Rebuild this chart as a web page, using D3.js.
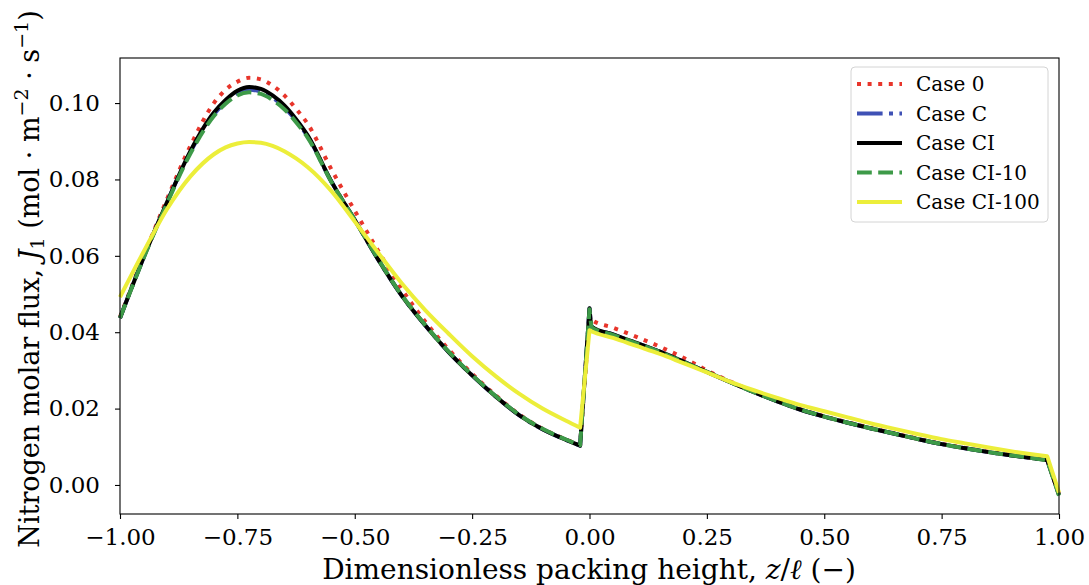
<!DOCTYPE html>
<html>
<head>
<meta charset="utf-8">
<script src="https://cdn.jsdelivr.net/npm/d3@7"></script>
<style>
  body { margin: 0; background: #fff; }
  text { font-family: "DejaVu Serif", serif; fill: #000; }
</style>
</head>
<body>
<svg id="chart" width="1089" height="585"></svg>
<script>
// dimensionless packing height z/l
const xs = [-1, -0.95, -0.9, -0.85, -0.8, -0.775, -0.75, -0.725, -0.7, -0.675, -0.65, -0.625,
  -0.6, -0.55, -0.5, -0.45, -0.4, -0.35, -0.3, -0.25, -0.2, -0.15, -0.1, -0.05, -0.02,
  0, 0.005, 0.05, 0.1, 0.15, 0.2, 0.25, 0.3, 0.35, 0.4, 0.45, 0.5, 0.55, 0.6, 0.65, 0.7,
  0.75, 0.8, 0.85, 0.9, 0.95, 0.975, 1];
// points where the profile has a kink (drawn as straight pieces)
const breaks = [-0.02, 0, 0.975];

const case0 = [0.0440, 0.0598, 0.0748, 0.0888, 0.1000, 0.1035, 0.1056, 0.1066, 0.1062, 0.1046, 0.1020, 0.0985,
  0.0945, 0.0827, 0.0718, 0.0613, 0.0513, 0.0428, 0.0355, 0.0291, 0.0235, 0.0185, 0.0147, 0.0119, 0.0104,
  0.0440, 0.0432, 0.0412, 0.0388, 0.0362, 0.0333, 0.0300, 0.0271, 0.0244, 0.0220, 0.0198, 0.0180, 0.0164, 0.0149, 0.0135, 0.0121,
  0.0108, 0.0097, 0.0087, 0.0078, 0.0070, 0.0066, -0.0025];
const caseC = [0.0437, 0.0595, 0.0740, 0.0872, 0.0970, 0.1003, 0.1026, 0.1035, 0.1030, 0.1014, 0.0989, 0.0954,
  0.0912, 0.0795, 0.0694, 0.0590, 0.0496, 0.0418, 0.0348, 0.0287, 0.0232, 0.0183, 0.0146, 0.0118, 0.0103,
  0.0462, 0.0414, 0.0394, 0.0372, 0.0349, 0.0323, 0.0296, 0.0269, 0.0243, 0.0219, 0.0197, 0.0179, 0.0163, 0.0148, 0.0134, 0.0120,
  0.0107, 0.0096, 0.0086, 0.0077, 0.0069, 0.0065, -0.0025];
const caseCI = [0.0437, 0.0595, 0.0740, 0.0874, 0.0975, 0.1008, 0.1032, 0.1042, 0.1037, 0.1020, 0.0994, 0.0958,
  0.0915, 0.0795, 0.0694, 0.0590, 0.0496, 0.0418, 0.0348, 0.0287, 0.0232, 0.0183, 0.0146, 0.0118, 0.0103,
  0.0463, 0.0414, 0.0394, 0.0372, 0.0349, 0.0323, 0.0296, 0.0269, 0.0243, 0.0219, 0.0197, 0.0179, 0.0163, 0.0148, 0.0134, 0.0120,
  0.0107, 0.0096, 0.0086, 0.0077, 0.0069, 0.0065, -0.0026];
const caseCI10 = [0.0437, 0.0593, 0.0737, 0.0868, 0.0966, 0.0998, 0.1020, 0.1028, 0.1024, 0.1008, 0.0984, 0.0950,
  0.0909, 0.0794, 0.0694, 0.0591, 0.0497, 0.0419, 0.0349, 0.0288, 0.0233, 0.0184, 0.0147, 0.0119, 0.0104,
  0.0460, 0.0413, 0.0393, 0.0371, 0.0348, 0.0322, 0.0296, 0.0269, 0.0243, 0.0219, 0.0197, 0.0179, 0.0163, 0.0148, 0.0134, 0.0120,
  0.0107, 0.0096, 0.0086, 0.0077, 0.0069, 0.0064, -0.0028];
const caseCI100 = [0.0492, 0.0610, 0.0722, 0.0808, 0.0866, 0.0884, 0.0894, 0.0898, 0.0896, 0.0888, 0.0874, 0.0855,
  0.0832, 0.0770, 0.0690, 0.0608, 0.0528, 0.0458, 0.0396, 0.0337, 0.0285, 0.0239, 0.0200, 0.0168, 0.0150,
  0.0405, 0.0402, 0.0385, 0.0364, 0.0343, 0.0319, 0.0295, 0.0270, 0.0248, 0.0228, 0.0209, 0.0193, 0.0177, 0.0161, 0.0147, 0.0133,
  0.0120, 0.0109, 0.0098, 0.0088, 0.0079, 0.0075, -0.0020];

const seriesNames = ["Case 0", "Case C", "Case CI", "Case CI-10", "Case CI-100"];
const seriesValues = [case0, caseC, caseCI, caseCI10, caseCI100];
const seriesColors = ["#e8352b", "#3f51b5", "#000000", "#3d9a48", "#ecee3a"];
const seriesDash = ["4,6.6", "25.6,6.4,4,6.4", null, "14.8,6.4", null];

const xTicks = [-1, -0.75, -0.5, -0.25, 0, 0.25, 0.5, 0.75, 1];
const yTicks = [0, 0.02, 0.04, 0.06, 0.08, 0.10];

const plotLeft = 120, plotRight = 1059, plotTop = 58, plotBottom = 514;
const svg = d3.select("#chart");

const x = d3.scaleLinear().domain([-1, 1]).range([plotLeft, plotRight]);
const y = d3.scaleLinear().domain([-0.0076, 0.1118]).range([plotBottom, plotTop]);

// split a series into smooth pieces at the kinks and join them with straight segments
const line = d3.line().x(d => x(d[0])).y(d => y(d[1])).curve(d3.curveMonotoneX);
function profilePath(vals) {
  const pts = xs.map((v, i) => [v, vals[i]]);
  const pieces = [[]];
  pts.forEach(p => {
    pieces[pieces.length - 1].push(p);
    if (breaks.includes(p[0])) pieces.push([p]);
  });
  return pieces.map((pc, i) => {
    const s = line(pc);
    return i === 0 ? s : s.replace(/^M/, "L");
  }).join("");
}

const plot = svg.append("g");
seriesValues.forEach((vals, i) => {
  plot.append("path")
    .attr("d", profilePath(vals))
    .attr("fill", "none")
    .attr("stroke", seriesColors[i])
    .attr("stroke-width", 4)
    .attr("stroke-linejoin", "round")
    .attr("stroke-dasharray", seriesDash[i]);
});

// frame
svg.append("rect")
  .attr("x", plotLeft).attr("y", plotTop)
  .attr("width", plotRight - plotLeft).attr("height", plotBottom - plotTop)
  .attr("fill", "none").attr("stroke", "#000").attr("stroke-width", 1.1);

const xAxis = svg.append("g")
  .attr("transform", `translate(0,${plotBottom})`)
  .call(d3.axisBottom(x).tickValues(xTicks).tickFormat(d3.format(".2f")).tickSize(5).tickPadding(10));
const yAxis = svg.append("g")
  .attr("transform", `translate(${plotLeft},0)`)
  .call(d3.axisLeft(y).tickValues(yTicks).tickFormat(d3.format(".2f")).tickSize(5).tickPadding(15));
[xAxis, yAxis].forEach(a => {
  a.select(".domain").remove();
  a.selectAll(".tick line").attr("stroke", "#000").attr("stroke-width", 1.1);
  a.selectAll(".tick text").style("font-family", "DejaVu Serif").style("font-size", "23px").attr("fill", "#000");
});

// x axis label
const xl = svg.append("text")
  .attr("x", 589).attr("y", 579)
  .attr("text-anchor", "middle")
  .style("font-size", "28px");
xl.append("tspan").text("Dimensionless packing height, ");
xl.append("tspan").style("font-style", "italic").text("z");
xl.append("tspan").text("/");
xl.append("tspan").style("font-style", "italic").text("ℓ");
xl.append("tspan").text(" (−)");

// y axis label
const yl = svg.append("text")
  .attr("transform", "translate(39,279) rotate(-90)")
  .attr("text-anchor", "middle")
  .style("font-size", "27px");
yl.append("tspan").text("Nitrogen molar flux, ");
yl.append("tspan").style("font-style", "italic").text("J");
yl.append("tspan").attr("dy", 5).style("font-size", "19px").text("1");
yl.append("tspan").attr("dy", -5).text(" (mol · m");
yl.append("tspan").attr("dy", -11).style("font-size", "19px").text("−2");
yl.append("tspan").attr("dy", 11).text(" · s");
yl.append("tspan").attr("dy", -11).style("font-size", "19px").text("−1");
yl.append("tspan").attr("dy", 11).text(")");

// legend
const lg = svg.append("g");
lg.append("rect")
  .attr("x", 851).attr("y", 67).attr("width", 197).attr("height", 155)
  .attr("rx", 4).attr("fill", "#fff").attr("fill-opacity", 0.8)
  .attr("stroke", "#d4d4d4").attr("stroke-width", 1);
seriesNames.forEach((name, i) => {
  const cy = 84 + i * 29.5;
  lg.append("line")
    .attr("x1", 857).attr("x2", 902).attr("y1", cy).attr("y2", cy)
    .attr("stroke", seriesColors[i]).attr("stroke-width", 4)
    .attr("stroke-dasharray", seriesDash[i]);
  lg.append("text")
    .attr("x", 916).attr("y", cy)
    .attr("dominant-baseline", "central")
    .style("font-size", "20px")
    .text(name);
});
</script>
</body>
</html>
